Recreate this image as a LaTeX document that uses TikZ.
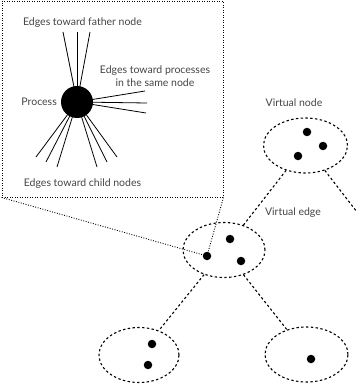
\documentclass[tikz,border=0pt]{standalone}
\usepackage{fontspec}
\setmainfont{Lato}
\usetikzlibrary{shapes.geometric}
\definecolor{txt}{HTML}{444444}
\tikzset{
  vnode/.style={ellipse, draw, line width=1.1pt, dash pattern=on 2.4pt off 2.4pt, minimum width=82pt, minimum height=55pt, inner sep=0pt},
  proc/.style={circle, fill=black, minimum size=8.5pt, inner sep=0pt},
  bigproc/.style={circle, fill=black, minimum size=32pt, inner sep=0pt},
  vedge/.style={line width=1.1pt, dash pattern=on 2.4pt off 2.4pt},
  zoomline/.style={line width=0.9pt, dash pattern=on 0.9pt off 1.6pt},
  spoke/.style={line width=0.8pt},
  lbl/.style={text=txt, font=\fontsize{10.5}{12.5}\selectfont, inner sep=0pt, align=center}
}
\begin{document}
\begin{tikzpicture}[x=1pt, y=-1pt]
\useasboundingbox (0,0) rectangle (359,390);
% inset box
\node[draw, zoomline, minimum width=221pt, minimum height=196pt, inner sep=0pt] (box) at (112.5,99) {};
% virtual nodes
\node[vnode] (vm) at (224,250) {};
\node[vnode, minimum width=84pt] (vt) at (305.5,145.5) {};
\node[vnode, minimum width=80pt] (vl) at (139,355) {};
\node[vnode, minimum width=83pt] (vr) at (306.5,354.5) {};
% processes
\node[proc] (m1) at (230,239) {};
\node[proc] (m2) at (207,256) {};
\node[proc] (m3) at (241,261) {};
\node[proc] (t1) at (307,132) {};
\node[proc] (t2) at (323,146) {};
\node[proc] (t3) at (298,156) {};
\node[proc] (l1) at (152,344) {};
\node[proc] (l2) at (148,365) {};
\node[proc] (r1) at (311,359) {};
% virtual edges
\coordinate (free) at (357,212);
\draw[vedge] (vm) -- (vt);
\draw[vedge] (vt) -- (free);
\draw[vedge] (vm) -- (vl);
\draw[vedge] (vm) -- (vr);
% zoom lines
\draw[zoomline] (box.south west) -- (m2.center);
\draw[zoomline] (box.south east) -- (m2.center);
% inset content
\coordinate (pc) at (77,102);
\foreach \p in {(63,32),(77,32),(90,32),(145,91),(147,103),(146,113),(36,157),(46,162),(57,167),(97,167),(107,162),(117,157)}
  \draw[spoke] (pc) -- \p;
\node[bigproc] (bp) at (pc) {};
\node[lbl, anchor=east] (lp) at (57,102) {Process};
\node[lbl] (lf) at (82.5,23) {Edges toward father node};
\node[lbl] (ls) at (155,76) {Edges toward processes\\in the same node};
\node[lbl] (lc) at (82.5,184) {Edges toward child nodes};
\node[lbl] (lvn) at (294,103) {Virtual node};
\node[lbl] (lve) at (293,213) {Virtual edge};
\end{tikzpicture}
\end{document}
